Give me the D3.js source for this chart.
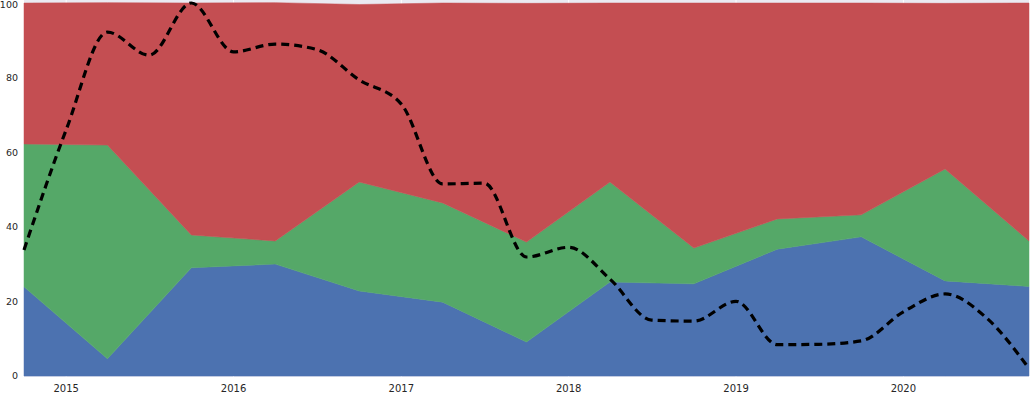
<!DOCTYPE html>
<html>
<head>
<meta charset="utf-8">
<script src="https://cdn.jsdelivr.net/npm/d3@7"></script>
<style>
  html, body { margin: 0; padding: 0; background: #ffffff; }
  svg { display: block; }
  text { font-family: "DejaVu Sans", sans-serif; }
</style>
</head>
<body>
<svg id="chart" width="1031" height="397"></svg>
<script>
// Semi-annual area data (stacked)
const areaDates = ["2014-10-01","2015-04-01","2015-10-01","2016-04-01","2016-10-01","2017-04-01","2017-10-01","2018-04-01","2018-10-01","2019-04-01","2019-10-01","2020-04-01","2020-10-01"];
const blueValues  = [23.9, 4.6, 29.0, 30.0, 22.8, 19.8, 9.1, 25.2, 24.7, 34.0, 37.3, 25.5, 24.0];
const greenValues = [38.3, 57.3, 8.8, 6.2, 29.2, 26.6, 26.8, 26.8, 9.6, 8.1, 5.9, 30.0, 12.2];
const redValues   = [37.8, 38.2, 62.2, 63.9, 47.6, 53.6, 64.0, 48.0, 65.7, 57.9, 56.8, 44.4, 63.8];

// Quarterly dashed line data
const lineDates = ["2014-10-01","2015-01-01","2015-04-01","2015-07-01","2015-10-01","2016-01-01","2016-04-01","2016-07-01","2016-10-01","2017-01-01","2017-04-01","2017-07-01","2017-10-01","2018-01-01","2018-04-01","2018-07-01","2018-10-01","2019-01-01","2019-04-01","2019-07-01","2019-10-01","2020-01-01","2020-04-01","2020-07-01","2020-10-01"];
const lineValues = [33.8, 66.0, 92.2, 86.0, 100.0, 86.9, 89.0, 87.5, 79.4, 72.9, 51.5, 51.7, 31.9, 34.5, 26.0, 15.0, 14.7, 20.0, 8.4, 8.5, 9.4, 17.2, 22.0, 15.5, 2.0];

const yTicks = [0, 20, 40, 60, 80, 100];
const xTickYears = ["2015","2016","2017","2018","2019","2020"];

const colors = { blue: "#4C72B0", green: "#55A868", red: "#C44E52" };

const parse = d3.utcParse("%Y-%m-%d");
const svg = d3.select("#chart");

const mLeft = 24, mRight = 1029, mTop = 3, mBottom = 376;

const x = d3.scaleUtc()
  .domain([parse(areaDates[0]), parse(areaDates[areaDates.length - 1])])
  .range([mLeft, mRight]);
const y = d3.scaleLinear().domain([0, 100]).range([mBottom, mTop]);

// background
svg.append("rect").attr("x", mLeft).attr("y", mTop - 3).attr("width", mRight - mLeft).attr("height", mBottom - mTop + 4)
  .attr("fill", "#EAEAF2");

// grid
svg.append("g").selectAll("line").data(xTickYears).join("line")
  .attr("x1", d => x(parse(d + "-01-01"))).attr("x2", d => x(parse(d + "-01-01")))
  .attr("y1", mTop - 3).attr("y2", mBottom + 1)
  .attr("stroke", "#ffffff").attr("stroke-width", 1);

// stacked areas
const rows = areaDates.map((d, i) => ({ date: parse(d), blue: blueValues[i], green: greenValues[i], red: redValues[i] }));
const stack = d3.stack().keys(["blue", "green", "red"]);
const series = stack(rows);

const area = d3.area()
  .x(d => x(d.data.date))
  .y0(d => y(d[0]))
  .y1(d => y(d[1]));

svg.append("g").selectAll("path").data(series).join("path")
  .attr("d", area)
  .attr("fill", d => colors[d.key])
  .attr("stroke", d => colors[d.key])
  .attr("stroke-width", 0.5);

// dashed line
const lineData = lineDates.map((d, i) => ({ date: parse(d), v: lineValues[i] }));
const line = d3.line().x(d => x(d.date)).y(d => y(d.v)).curve(d3.curveMonotoneX);
svg.append("path").datum(lineData)
  .attr("d", line)
  .attr("fill", "none")
  .attr("stroke", "#000000")
  .attr("stroke-width", 3.2)
  .attr("stroke-dasharray", "8,5");

// y axis labels
svg.append("g").selectAll("text").data(yTicks).join("text")
  .attr("x", 18).attr("y", d => Math.max(y(d), 5)).attr("dy", "0.35em")
  .attr("text-anchor", "end")
  .attr("font-size", 9.5).attr("fill", "#262626")
  .text(d => d);

// x axis labels
svg.append("g").selectAll("text").data(xTickYears).join("text")
  .attr("x", d => x(parse(d + "-01-01"))).attr("y", 388).attr("dy", "0.35em")
  .attr("text-anchor", "middle")
  .attr("font-size", 10).attr("fill", "#262626")
  .text(d => d);
</script>
</body>
</html>
